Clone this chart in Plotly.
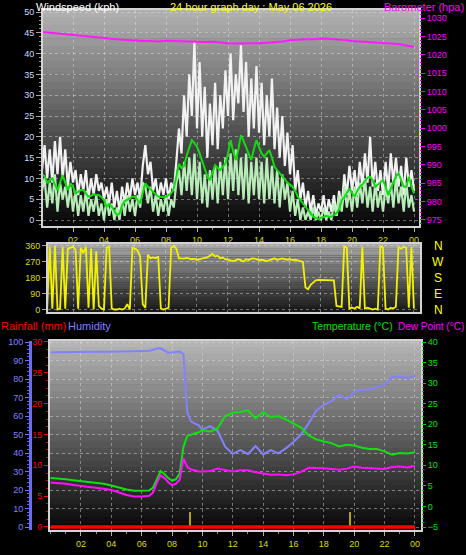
import plotly.graph_objects as go

# ---------------- data ----------------
# wind (10-minute samples, hours 0..24)
wind_hours = [i / 6 for i in range(145)]
gust_kph = [
    12, 18, 10, 17, 9, 19, 11, 20, 10, 17, 8, 14, 9,
    12, 6, 11, 7, 12, 5, 10, 6, 11, 7, 9, 5,
    8, 4, 9, 3, 7, 2, 8, 4, 9, 5, 10, 6,
    9, 5, 13, 18, 11, 14, 7, 10, 5, 9, 6, 10,
    5, 9, 7, 14, 22, 16, 30, 20, 35, 25, 43, 22,
    38, 20, 32, 15, 28, 18, 33, 17, 30, 22, 36, 25,
    40, 24, 35, 28, 42, 26, 38, 20, 34, 22, 37, 21,
    33, 18, 30, 20, 34, 17, 27, 15, 25, 13, 21, 11,
    18, 7, 12, 5, 9, 3, 7, 2, 6, 1, 4, 2,
    6, 1, 5, 2, 6, 1, 7, 3, 11, 6, 13, 7,
    12, 6, 14, 8, 16, 9, 20, 8, 14, 7, 12, 6,
    14, 7, 16, 9, 15, 8, 13, 6, 15, 8, 12, 7,
]
speed_kph = [
    7, 10, 3, 9, 4, 11, 2, 9, 5, 8, 3, 8, 2,
    7, 1, 6, 2, 7, 1, 5, 2, 6, 1, 4, 0,
    5, 1, 4, 0, 3, 0, 5, 1, 6, 2, 5, 1,
    6, 3, 9, 8, 4, 8, 2, 6, 1, 5, 2, 6,
    1, 5, 3, 9, 12, 6, 14, 7, 15, 6, 16, 5,
    14, 4, 11, 3, 12, 5, 13, 4, 14, 6, 15, 5,
    16, 7, 17, 6, 15, 5, 16, 4, 14, 6, 15, 5,
    14, 4, 15, 5, 13, 4, 12, 3, 11, 5, 9, 2,
    7, 1, 5, 0, 3, 0, 2, 0, 3, 0, 2, 0,
    3, 0, 2, 0, 4, 1, 6, 2, 8, 3, 7, 2,
    8, 3, 9, 4, 10, 3, 8, 2, 9, 3, 7, 2,
    8, 4, 9, 3, 10, 4, 8, 2, 9, 3, 6, 2,
]
avg_kph = [
    11, 10.5, 9, 9.5, 10, 8.5, 7.2, 9, 10.8, 9, 7.2, 8.8, 8,
    6.4, 6.8, 7.2, 7.2, 6.4, 5.6, 5.8, 6.2, 6.0, 6.0, 5.5, 4.8,
    3.2, 3.8, 3.2, 2.2, 1.2, 1.5, 3.5, 4.5, 4.8, 5.2, 5.6, 5.6,
    4.8, 4.0, 6.5, 8.8, 8.0, 7.5, 6.8, 6.2, 5.6, 5.6, 5.5, 5.6,
    6.0, 6.4, 7.5, 11, 13.5, 12.5, 13, 15.5, 17.5, 19.2, 18.5, 17.6,
    16, 14, 12, 10.5, 9.6, 11.5, 13.2, 12.5, 12, 12.8, 13.6, 16,
    19.2, 16.5, 14.4, 17, 20.4, 19, 17.6, 16, 14.4, 17, 19.2, 17.5,
    16, 15.2, 16, 16.8, 15, 12.8, 12, 11.2, 10.5, 9.6, 9, 8.5,
    8, 7, 5.6, 4.8, 4, 3.2, 2.5, 1.6, 0.8, 0.5, 0.2, 0.5,
    0.8, 1.0, 0.8, 0.8, 1.2, 1.6, 2.5, 4.8, 5.5, 6.5, 7.6, 6.5,
    5.6, 7, 8, 8.5, 9.5, 10.2, 10.4, 9.5, 8, 8.5, 9.2, 9.6,
    8, 6, 7.5, 9, 10.5, 11.2, 9.5, 8, 8, 10.4, 8, 6.4,
]

# barometer (half-hourly)
baro_hours = [i / 2 for i in range(49)]
baro_hpa = [
    1026.3, 1026.1, 1026.0, 1025.8, 1025.6, 1025.4, 1025.2, 1024.8, 1024.6, 1024.4,
    1024.2, 1024.0, 1023.9, 1023.8, 1023.8, 1023.7, 1023.9, 1023.8, 1023.7, 1023.6,
    1023.7, 1023.5, 1023.6, 1023.3, 1023.2, 1023.1, 1023.1, 1023.0, 1023.2, 1023.3,
    1023.4, 1023.7, 1024.0, 1024.2, 1024.3, 1024.3, 1024.5, 1024.4, 1024.3, 1024.1,
    1023.8, 1023.7, 1023.5, 1023.4, 1023.3, 1023.2, 1023.0, 1022.6, 1022.2,
]

# wind direction (10-minute samples)
dir_hours = wind_hours
dir_deg = [
    5, 360, 10, 355, 5, 360, 0, 5, 355, 5, 345, 350, 355,
    340, 5, 350, 320, 355, 10, 345, 0, 330, 20, 5, 0,
    350, 355, 5, 0, 0, 5, 0, 5, 30, 0, 350, 345,
    335, 300, 30, 10, 310, 290, 295, 290, 300, 5, 0, 5,
    10, 350, 360, 345, 290, 290, 288, 292, 290, 285, 288, 280,
    285, 290, 292, 295, 305, 315, 300, 305, 290, 295, 285, 280,
    278, 275, 282, 285, 280, 272, 285, 280, 288, 290, 285, 280,
    282, 278, 275, 280, 285, 290, 282, 285, 290, 285, 282, 285,
    280, 282, 278, 275, 270, 125, 115, 140, 150, 165, 168, 168,
    168, 168, 168, 168, 165, 20, 18, 15, 360, 350, 5, 10,
    5, 15, 5, 355, 5, 10, 5, 0, 5, 0, 360, 350,
    5, 0, 10, 5, 15, 355, 345, 355, 350, 10, 355, 5,
]

# temperature / dew point / humidity
thd_hours = [
    0, 0.5, 1, 1.5, 2, 2.5, 3, 3.5, 4, 4.5, 5, 5.5, 6, 6.5,
    6.75, 7, 7.25, 7.5, 7.75, 8, 8.25, 8.5, 8.75, 9, 9.25, 9.5, 9.75, 10,
    10.5, 11, 11.5, 12, 12.5, 13, 13.5, 14, 14.5, 15, 15.5, 16, 16.5, 17,
    17.5, 18, 18.5, 19, 19.5, 20, 20.5, 21, 21.5, 22, 22.5, 23, 23.5, 24,
]
temp_c = [
    6.9, 6.8, 6.6, 6.4, 6.2, 6.0, 5.8, 5.5, 5.1, 4.6, 4.1, 3.8, 3.8, 3.9,
    4.6, 6.8, 8.6, 7.9, 6.9, 6.3, 6.6, 8.0, 14.5, 17.1, 17.5, 17.8, 18.0, 18.6,
    18.2, 19.0, 22.0, 22.8, 23.0, 23.4, 21.4, 23.0, 21.7, 22.0, 21.2, 20.2, 19.2, 17.3,
    16.3, 15.8, 15.4, 14.6, 15.0, 14.8, 14.3, 14.0, 14.0, 13.4, 12.6, 13.0, 12.9, 13.2,
]
dew_c = [
    5.8, 5.7, 5.5, 5.2, 5.0, 4.8, 4.6, 4.3, 4.0, 3.4, 2.8, 2.4, 2.4, 2.6,
    3.4, 5.8, 7.6, 6.9, 5.9, 5.2, 5.5, 6.5, 11.7, 9.6, 9.0, 8.8, 8.5, 8.5,
    8.6, 9.2, 8.9, 8.5, 8.8, 8.8, 8.3, 8.0, 7.7, 7.8, 7.6, 7.8, 8.4, 9.4,
    9.4, 9.3, 9.1, 8.9, 9.2, 9.7, 9.4, 9.3, 9.2, 9.1, 9.6, 9.7, 9.5, 9.9,
]
hum_pct = [
    94.5, 94.5, 94.5, 94.6, 94.6, 94.7, 94.7, 94.8, 94.8, 94.8, 94.9, 95.0, 95.0, 95.3,
    95.8, 96.5, 96.6, 95.5, 94.2, 94.3, 94.6, 94.8, 93.5, 62, 57, 56, 55, 52.5,
    54.5, 52, 43.4, 39.5, 41.5, 39.5, 43.8, 39.2, 41.6, 39.8, 42.5, 46, 50, 56,
    63, 66, 68, 71.5, 69, 73, 74, 74.5, 75.5, 77, 81, 81.5, 80.5, 81.6,
]

# rainfall
rain_hours = [0, 24]
rain_mm = [0, 0]
rain_event_hours = [9.2, 19.7]
rain_event_mm = [2.5, 2.5]

# tick labels
hour_ticks = [2, 4, 6, 8, 10, 12, 14, 16, 18, 20, 22, 24]
hour_labels = ["02", "04", "06", "08", "10", "12", "14", "16", "18", "20", "22", "00"]
dir_ticks = [0, 90, 180, 270, 360]
compass_vals = [360, 270, 180, 90, 0]
compass_labels = ["N", "W", "S", "E", "N"]

assert len(gust_kph) == len(speed_kph) == len(avg_kph) == len(wind_hours) == len(dir_deg)
assert len(baro_hpa) == len(baro_hours)
assert len(temp_c) == len(dew_c) == len(hum_pct) == len(thd_hours)

# ---------------- layout helpers ----------------
W, H = 466, 555
FONT = "Liberation Sans, Arial, sans-serif"


def px(x):
    return x / W


def py(y):
    return 1 - y / H


GRID = "rgba(225,225,225,0.45)"
FRAME = "#d4d4d4"
YEL = "#dede00"

fig = go.Figure()

# --- panel 1: wind + barometer ---
fig.add_trace(go.Scatter(x=wind_hours, y=gust_kph, mode="lines", line=dict(color="#f2f2f2", width=2.2),
                         xaxis="x", yaxis="y", hoverinfo="skip"))
fig.add_trace(go.Scatter(x=wind_hours, y=speed_kph, mode="lines", line=dict(color="#b8ecb8", width=2.2),
                         xaxis="x", yaxis="y", hoverinfo="skip"))
fig.add_trace(go.Scatter(x=wind_hours, y=avg_kph, mode="lines", line=dict(color="#10dc10", width=2),
                         xaxis="x", yaxis="y", hoverinfo="skip"))
fig.add_trace(go.Scatter(x=baro_hours, y=baro_hpa, mode="lines", line=dict(color="#ff1aff", width=2),
                         xaxis="x", yaxis="y2", hoverinfo="skip"))

# --- panel 2: wind direction ---
fig.add_trace(go.Scatter(x=dir_hours, y=dir_deg, mode="lines", line=dict(color="#f2f200", width=1.8),
                         xaxis="x2", yaxis="y3", hoverinfo="skip"))

# --- panel 3: rain, humidity, temperature, dew point ---
fig.add_trace(go.Bar(x=rain_event_hours, y=rain_event_mm, width=0.13, marker=dict(color="#b8a400", line=dict(width=0)),
                     xaxis="x3", yaxis="y4", hoverinfo="skip"))
fig.add_trace(go.Scatter(x=thd_hours, y=hum_pct, mode="lines", line=dict(color="#8282ff", width=2),
                         xaxis="x3", yaxis="y5", hoverinfo="skip"))
fig.add_trace(go.Scatter(x=thd_hours, y=temp_c, mode="lines", line=dict(color="#10e010", width=2),
                         xaxis="x3", yaxis="y6", hoverinfo="skip"))
fig.add_trace(go.Scatter(x=thd_hours, y=dew_c, mode="lines", line=dict(color="#ff10ff", width=2),
                         xaxis="x3", yaxis="y6", hoverinfo="skip"))
fig.add_trace(go.Scatter(x=rain_hours, y=rain_mm, mode="lines", line=dict(color="#ff0000", width=3.5),
                         xaxis="x3", yaxis="y4", hoverinfo="skip"))


def xaxis_style(domain, anchor, rng, labels=True):
    return dict(
        domain=domain, anchor=anchor, range=rng, automargin=False,
        tickmode="array", tickvals=hour_ticks, ticktext=hour_labels,
        showticklabels=labels,
        ticks="outside" if labels else "", ticklen=4, tickcolor="#b0b0b0",
        tickfont=dict(color=YEL, size=9, family=FONT),
        showgrid=True, gridcolor=GRID, griddash="dot", gridwidth=1,
        showline=True, linecolor=FRAME, linewidth=2, mirror=True, zeroline=False,
        minor=dict(tickmode="linear", tick0=0, dtick=1, ticks="outside" if labels else "",
                   ticklen=2, tickcolor="#909090", showgrid=False),
        fixedrange=True,
    )


def gradient(xref, yref, top, bottom, n=30):
    out = []
    for k in range(n):
        t = (k + 0.5) / n
        v = int(round(bottom + (top - bottom) * t))
        out.append(dict(type="rect", xref=xref, yref=yref, x0=0, x1=1,
                        y0=k / n, y1=min(1, (k + 1) / n + 0.003),
                        fillcolor=f"rgb({v},{v},{v})", line=dict(width=0), layer="below"))
    return out


shapes = []
shapes += gradient("x domain", "y domain", 178, 6)
shapes += gradient("x2 domain", "y3 domain", 170, 22)
shapes += gradient("x3 domain", "y4 domain", 184, 6)

annotations = [
    dict(text="Windspeed (kph)", x=px(34), y=py(7), xref="paper", yref="paper", xanchor="left", yanchor="middle",
         showarrow=False, font=dict(color="#ffffff", size=11, family=FONT)),
    dict(text="24 hour graph day : May 06 2026", x=px(251), y=py(7), xref="paper", yref="paper", xanchor="center",
         yanchor="middle", showarrow=False, font=dict(color="#ffff00", size=11, family=FONT)),
    dict(text="Barometer (hpa)", x=px(466), y=py(7), xref="paper", yref="paper", xanchor="right", yanchor="middle",
         showarrow=False, font=dict(color="#ff00ff", size=11, family=FONT)),
    dict(text="Rainfall (mm)", x=px(-1), y=py(326), xref="paper", yref="paper", xanchor="left", yanchor="middle",
         showarrow=False, font=dict(color="#ff0000", size=11, family=FONT)),
    dict(text="Humidity", x=px(66), y=py(326), xref="paper", yref="paper", xanchor="left", yanchor="middle",
         showarrow=False, font=dict(color="#8080ff", size=11, family=FONT)),
    dict(text="Temperature (°C)", x=px(395), y=py(326), xref="paper", yref="paper", xanchor="right",
         yanchor="middle", showarrow=False, font=dict(color="#00e000", size=10.5, family=FONT)),
    dict(text="Dew Point (°C)", x=px(466), y=py(326), xref="paper", yref="paper", xanchor="right", yanchor="middle",
         showarrow=False, font=dict(color="#ff00ff", size=10, family=FONT)),
]
for v, lab in zip(compass_vals, compass_labels):
    annotations.append(dict(text=lab, x=px(438), y=v, xref="paper", yref="y3", xanchor="center", yanchor="middle",
                            showarrow=False, font=dict(color="#ffff00", size=12, family=FONT)))

fig.update_layout(
    width=W, height=H,
    margin=dict(l=0, r=0, t=0, b=0, pad=0, autoexpand=False),
    paper_bgcolor="#000000", plot_bgcolor="#000000",
    showlegend=False,
    font=dict(family=FONT, size=9, color="#ffffff"),
    bargap=0,
    # panel 1
    xaxis=xaxis_style([px(43), px(419)], "y", [0.065, 24.32]),
    yaxis=dict(
        domain=[py(226), py(10)], anchor="x", range=[-1.44, 50.48], automargin=False,
        tickmode="linear", tick0=0, dtick=5, ticks="outside", ticklen=5, tickcolor="#a8a8a8",
        tickfont=dict(color="#cddcff", size=9, family=FONT),
        showgrid=True, gridcolor=GRID, griddash="dot", gridwidth=1,
        showline=True, linecolor=FRAME, linewidth=2, mirror=True, zeroline=False,
        minor=dict(tickmode="linear", tick0=0, dtick=1, ticks="outside", ticklen=2, tickcolor="#909090",
                   showgrid=False),
        fixedrange=True,
    ),
    yaxis2=dict(
        overlaying="y", side="right", anchor="x", range=[973.36, 1032.26], automargin=False,
        tickmode="linear", tick0=975, dtick=5, ticks="outside", ticklen=5, tickcolor="#ff00ff",
        tickfont=dict(color="#ff00ff", size=9, family=FONT),
        showgrid=False, showline=False, zeroline=False,
        minor=dict(tickmode="linear", tick0=975, dtick=1, ticks="outside", ticklen=2, tickcolor="#c000c0"),
        fixedrange=True,
    ),
    # panel 2
    xaxis2=xaxis_style([px(48), px(420)], "y3", [0.387, 24.39], labels=False),
    yaxis3=dict(
        domain=[py(312), py(244)], anchor="x2", range=[-14.2, 371.3], automargin=False,
        tickmode="array", tickvals=dir_ticks, ticks="outside", ticklen=4, tickcolor="#b0b000",
        tickfont=dict(color=YEL, size=9, family=FONT),
        showgrid=True, gridcolor=GRID, griddash="dot", gridwidth=1,
        showline=True, linecolor=FRAME, linewidth=2, mirror=True, zeroline=False,
        fixedrange=True,
    ),
    # panel 3
    xaxis3=xaxis_style([px(50), px(421)], "y4", [-0.04, 24.4]),
    yaxis4=dict(
        domain=[py(530), py(340.7)], anchor="x3", range=[-0.49, 30.2], automargin=False,
        tickmode="linear", tick0=0, dtick=5, ticks="outside", ticklen=4, tickcolor="#ff0000",
        tickfont=dict(color="#ff0000", size=9, family=FONT),
        showgrid=False, showline=True, linecolor=FRAME, linewidth=2, mirror=True, zeroline=False,
        minor=dict(tickmode="linear", tick0=0, dtick=1.25, ticks="outside", ticklen=2, tickcolor="#d00000"),
        fixedrange=True,
    ),
    yaxis5=dict(
        overlaying="y4", anchor="free", position=px(30), side="left", range=[-1.62, 100.7], automargin=False,
        tickmode="linear", tick0=0, dtick=10, ticks="outside", ticklen=4, tickcolor="#7070ff",
        tickfont=dict(color="#8080ff", size=9, family=FONT),
        showgrid=True, gridcolor=GRID, griddash="dot", gridwidth=1,
        showline=True, linecolor="#6a6aff", linewidth=3, zeroline=False,
        minor=dict(tickmode="linear", tick0=0, dtick=2, ticks="outside", ticklen=2, tickcolor="#6060e0"),
        fixedrange=True,
    ),
    yaxis6=dict(
        overlaying="y4", side="right", anchor="x3", range=[-5.73, 40.32], automargin=False,
        tickmode="linear", tick0=-5, dtick=5, ticks="outside", ticklen=4, tickcolor="#00d000",
        tickfont=dict(color="#00e000", size=9, family=FONT),
        showgrid=False, showline=False, zeroline=False,
        minor=dict(tickmode="linear", tick0=-5, dtick=1, ticks="outside", ticklen=2, tickcolor="#00b000"),
        fixedrange=True,
    ),
    shapes=shapes,
    annotations=annotations,
)

fig.write_html(
    "out.html",
    config={"displayModeBar": False, "staticPlot": True},
    post_script="document.body.style.margin='0px';document.body.style.padding='0px';"
                "document.body.style.background='#000000';",
)
